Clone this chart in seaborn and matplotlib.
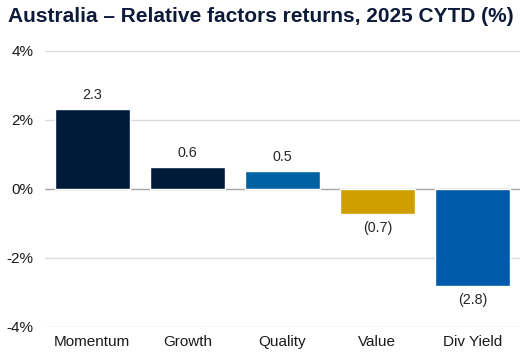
import seaborn as sns
import matplotlib.pyplot as plt
import pandas as pd

# Data
factors = ['Momentum', 'Growth', 'Quality', 'Value', 'Div Yield']
returns = [2.32, 0.64, 0.53, -0.74, -2.81]
labels = ['2.3', '0.6', '0.5', '(0.7)', '(2.8)']
colors = ['#001a3a', '#001a3a', '#0062a3', '#d09e00', '#005aaa']
yticks = [-4, -2, 0, 2, 4]

df = pd.DataFrame({'factor': factors, 'ret': returns})

sns.set_style('white')
plt.rcParams['font.family'] = ['Liberation Sans', 'DejaVu Sans']

fig = plt.figure(figsize=(5.21, 3.56), dpi=100)
ax = fig.add_axes([0.086, 0.0815, 0.912, 0.7755])

sns.barplot(data=df, x='factor', y='ret', hue='factor', palette=colors,
            legend=False, width=0.79, saturation=1, ax=ax)

ax.set_ylim(-4, 4)
ax.set_xlim(-0.5, 4.5)
ax.set_yticks(yticks)
ax.set_yticklabels([f'{t}%' for t in yticks])
for t in yticks:
    ax.axhline(t, color='#a6a6a6' if t == 0 else '#dcdcdc', lw=1, zorder=0)

for i, (v, lab) in enumerate(zip(returns, labels)):
    off = 5 if v > 0 else -5
    ax.annotate(lab, (i, v), xytext=(0, off), textcoords='offset points',
                ha='center', va='bottom' if v > 0 else 'top',
                fontsize=10.3, color='#262626')

for s in ax.spines.values():
    s.set_visible(False)
ax.tick_params(axis='both', length=0, labelsize=11, colors='#1a1a1a')
ax.tick_params(axis='y', pad=8)
ax.tick_params(axis='x', pad=6)
ax.set_xlabel('')
ax.set_ylabel('')

fig.text(0.015, 0.955, 'Australia \u2013 Relative factors returns, 2025 CYTD (%)',
         fontsize=15, fontweight='bold', color='#0d1a3a', va='center', ha='left')

fig.savefig('out.png', dpi=100)
